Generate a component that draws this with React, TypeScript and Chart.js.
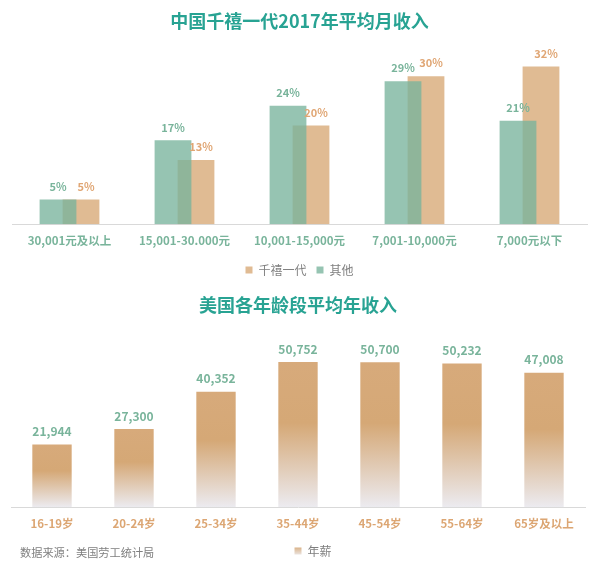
import React, { useEffect, useRef } from "react";
import { Chart, registerables } from "chart.js";

Chart.register(...registerables);

// ---- data ----
const topTitle = "中国千禧一代2017年平均月收入";
const incomeCategories = ["30,001元及以上", "15,001-30.000元", "10,001-15,000元", "7,001-10,000元", "7,000元以下"];
const millennialShare = [5, 13, 20, 30, 32];
const otherShare = [5, 17, 24, 29, 21];
const millennialLabel = "千禧一代";
const otherLabel = "其他";

const bottomTitle = "美国各年龄段平均年收入";
const ageCategories = ["16-19岁", "20-24岁", "25-34岁", "35-44岁", "45-54岁", "55-64岁", "65岁及以上"];
const annualSalary = [21944, 27300, 40352, 50752, 50700, 50232, 47008];
const salaryLabel = "年薪";
const sourceNote = "数据来源：美国劳工统计局";

// ---- styles ----
const FONT = "'Noto Sans CJK SC', 'Noto Sans', sans-serif";
const TITLE_COLOR = "#28a393";
const GREEN_TEXT = "#79b49b";
const TAN_TEXT = "#e0a674";
const TAN_AXIS_TEXT = "#dca673";
const GREY_TEXT = "#7f7f7f";
const AXIS_LINE = "#d9d9d9";
const TAN_BAR = "#e0bb93";
const GREEN_BAR = "rgba(120,180,156,0.78)";

Chart.defaults.font.family = FONT;

type LabelSpec = { color: string; dx: number; size: number; fmt: (v: number) => string };

const makeValueLabels = (specs: LabelSpec[]) => ({
  id: "valueLabels",
  afterDatasetsDraw(chart: any) {
    const ctx = chart.ctx;
    ctx.save();
    chart.data.datasets.forEach((ds: any, i: number) => {
      const spec = specs[i];
      const meta = chart.getDatasetMeta(i);
      ctx.fillStyle = spec.color;
      ctx.font = `bold ${spec.size}px ${FONT}`;
      ctx.textAlign = "center";
      ctx.textBaseline = "middle";
      meta.data.forEach((el: any, j: number) => {
        ctx.fillText(spec.fmt(ds.data[j] as number), el.x + spec.dx, el.y - 13);
      });
    });
    ctx.restore();
  },
});

const shiftLegend = (dx: number) => ({
  id: "shiftLegend",
  afterLayout(chart: any) {
    if (chart.legend) {
      chart.legend.left += dx;
      chart.legend.right += dx;
    }
  },
});

export default function App() {
  const topRef = useRef<HTMLCanvasElement>(null);
  const botRef = useRef<HTMLCanvasElement>(null);

  useEffect(() => {
    const top = new Chart(topRef.current as HTMLCanvasElement, {
      type: "bar",
      data: {
        labels: incomeCategories,
        datasets: [
          { label: millennialLabel, data: millennialShare, backgroundColor: TAN_BAR, borderWidth: 0, order: 1 },
          { label: otherLabel, data: otherShare, backgroundColor: GREEN_BAR, borderWidth: 0, order: 0 },
        ],
      },
      options: {
        animation: false,
        responsive: false,
        maintainAspectRatio: false,
        layout: { padding: { left: 12, right: 10, top: 0, bottom: 0 } },
        datasets: { bar: { categoryPercentage: 0.4, barPercentage: 1.6 } },
        scales: {
          x: {
            grid: { display: false, drawTicks: false },
            border: { display: true, color: AXIS_LINE, width: 1 },
            ticks: { padding: 10, color: GREEN_TEXT, font: { size: 11.5, weight: "bold" }, maxRotation: 0, autoSkip: false },
            afterFit: (s: any) => {
              s.height -= 4;
            },
          },
          y: { display: false, min: 0, max: 35 },
        },
        plugins: {
          title: {
            display: true,
            text: topTitle,
            color: TITLE_COLOR,
            font: { size: 18, weight: "bold" },
            padding: { top: 10, bottom: 20 },
          },
          legend: {
            position: "bottom",
            labels: {
              boxWidth: 7,
              boxHeight: 7,
              padding: 10,
              color: GREY_TEXT,
              font: { size: 12 },
              sort: (a: any, b: any) => a.datasetIndex - b.datasetIndex,
            },
          },
          tooltip: { enabled: false },
        },
      } as any,
      plugins: [
        makeValueLabels([
          { color: TAN_TEXT, dx: 5, size: 11, fmt: (v) => `${v}%` },
          { color: GREEN_TEXT, dx: 0, size: 11, fmt: (v) => `${v}%` },
        ]),
      ],
    });

    const bottom = new Chart(botRef.current as HTMLCanvasElement, {
      type: "bar",
      data: {
        labels: ageCategories,
        datasets: [
          {
            label: salaryLabel,
            data: annualSalary,
            borderWidth: 0,
            backgroundColor: (c: any) => {
              const chart = c.chart;
              if (!chart.chartArea || c.dataIndex === undefined || !chart.scales.y) return TAN_BAR;
              const y = chart.scales.y;
              const t = y.getPixelForValue(c.raw as number);
              const b = y.getPixelForValue(0);
              const g = chart.ctx.createLinearGradient(0, t, 0, b);
              g.addColorStop(0, "#d7aa7b");
              g.addColorStop(0.42, "#d5a876");
              g.addColorStop(1, "#ecebf0");
              return g;
            },
          },
        ],
      },
      options: {
        animation: false,
        responsive: false,
        maintainAspectRatio: false,
        layout: { padding: { left: 11, right: 12, top: 0, bottom: 0 } },
        datasets: { bar: { categoryPercentage: 1, barPercentage: 0.48 } },
        scales: {
          x: {
            grid: { display: false, drawTicks: false },
            border: { display: true, color: AXIS_LINE, width: 1 },
            ticks: { padding: 10, color: TAN_AXIS_TEXT, font: { size: 11.5, weight: "bold" }, maxRotation: 0, autoSkip: false },
            afterFit: (s: any) => {
              s.height -= 6;
            },
          },
          y: { display: false, min: 0, max: 60000 },
        },
        plugins: {
          title: {
            display: true,
            text: bottomTitle,
            color: TITLE_COLOR,
            font: { size: 18, weight: "bold" },
            padding: { top: 14, bottom: 20 },
          },
          legend: {
            position: "bottom",
            labels: {
              boxWidth: 7,
              boxHeight: 7,
              padding: 10,
              color: GREY_TEXT,
              font: { size: 12 },
              generateLabels: (chart: any) => {
                const g = chart.ctx.createLinearGradient(0, 266, 0, 275);
                g.addColorStop(0, "#d6a977");
                g.addColorStop(1, "#ece6e4");
                return [
                  {
                    text: salaryLabel,
                    fillStyle: g,
                    strokeStyle: "rgba(0,0,0,0)",
                    lineWidth: 0,
                    fontColor: GREY_TEXT,
                    datasetIndex: 0,
                    hidden: false,
                  },
                ];
              },
            },
          },
          tooltip: { enabled: false },
        },
      } as any,
      plugins: [
        makeValueLabels([{ color: GREEN_TEXT, dx: 0, size: 12, fmt: (v) => v.toLocaleString("en-US") }]),
        shiftLegend(15),
      ],
    });

    return () => {
      top.destroy();
      bottom.destroy();
    };
  }, []);

  return (
    <div
      style={{
        position: "absolute",
        left: 0,
        top: 0,
        width: 597,
        height: 562,
        overflow: "hidden",
        background: "#ffffff",
      }}
    >
      <canvas
        ref={topRef}
        width={597}
        height={286}
        style={{ position: "absolute", left: 0, top: 0, width: 597, height: 286 }}
      />
      <canvas
        ref={botRef}
        width={597}
        height={287}
        style={{ position: "absolute", left: 0, top: 280, width: 597, height: 287 }}
      />
      <div
        style={{
          position: "absolute",
          left: 20,
          top: 544,
          fontFamily: FONT,
          fontSize: 11.2,
          lineHeight: "17px",
          color: GREY_TEXT,
          whiteSpace: "nowrap",
        }}
      >
        {sourceNote}
      </div>
    </div>
  );
}
